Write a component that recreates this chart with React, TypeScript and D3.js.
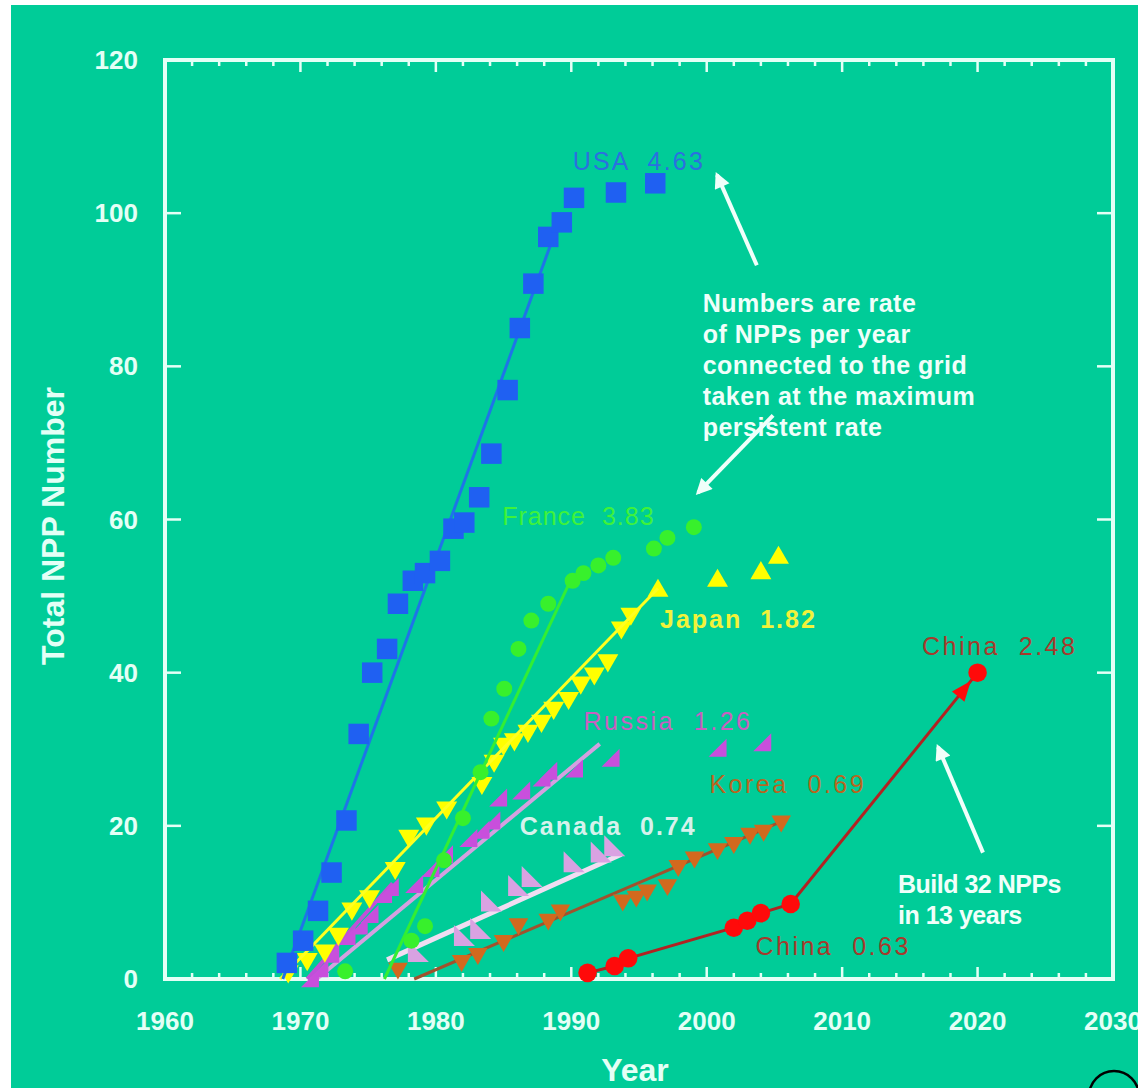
import React from 'react';
import * as d3 from 'd3';

// ---------- data ----------
const xTickValues = [1960, 1970, 1980, 1990, 2000, 2010, 2020, 2030];
const yTickValues = [0, 20, 40, 60, 80, 100, 120];

const usaYears = [1969.0, 1970.2, 1971.3, 1972.3, 1973.4, 1974.3, 1975.3, 1976.4, 1977.2, 1978.3, 1979.2, 1980.3, 1981.3, 1982.1, 1983.2, 1984.1, 1985.3, 1986.2, 1987.2, 1988.3, 1989.3, 1990.2, 1993.3, 1996.2];
const usaValues = [2.1, 5, 8.9, 13.9, 20.7, 32, 40, 43.1, 49, 52, 53, 54.6, 58.8, 59.6, 62.9, 68.6, 76.9, 85, 90.8, 96.9, 98.8, 102, 102.7, 103.9];

const franceYears = [1973.3, 1978.2, 1979.2, 1980.6, 1982.0, 1983.3, 1984.1, 1985.05, 1986.1, 1987.05, 1988.3, 1990.1, 1990.9, 1992.0, 1993.1, 1996.1, 1997.1, 1999.05];
const franceValues = [1, 5, 6.9, 15.5, 21, 27, 34, 37.9, 43.1, 46.8, 49, 52, 53, 54, 55, 56.2, 57.6, 59];

const japanYears = [1969.1, 1970.5, 1971.8, 1972.8, 1973.8, 1975.1, 1977.0, 1978.0, 1979.3, 1980.8, 1983.4, 1984.3, 1985.0, 1985.8, 1986.8, 1987.8, 1988.7, 1989.8, 1990.7, 1991.7, 1992.7, 1993.7, 1994.4];
const japanValues = [1, 2.6, 3.7, 5.9, 9.2, 10.8, 14.5, 18.7, 20.3, 22.4, 25.6, 28.5, 30.7, 31.3, 32.4, 33.7, 35.4, 36.7, 38.7, 39.9, 41.6, 45.9, 47.7];
const japanLateYears = [1996.4, 2000.8, 2004.0, 2005.3];
const japanLateValues = [50.7, 52, 53, 55];

const russiaYears = [1970.7, 1971.4, 1972.2, 1973.4, 1974.3, 1975.1, 1976.1, 1976.6, 1978.4, 1979.6, 1980.6, 1982.4, 1983.3, 1984.1, 1984.6, 1986.3, 1987.8, 1988.3, 1990.2, 1992.9, 2000.8, 2004.1];
const russiaValues = [0.1, 1.4, 3.3, 5.6, 7.0, 8.5, 11.1, 12, 12.4, 14.5, 16.3, 18.4, 19.5, 20.7, 23.7, 24.6, 26.3, 27.2, 27.5, 28.9, 30.2, 30.9];

const canadaYears = [1978.6, 1982.0, 1983.2, 1984.0, 1986.0, 1987.0, 1990.1, 1992.1, 1993.1];
const canadaValues = [3.4, 5.5, 6.4, 10, 12, 13.2, 15.1, 16.4, 17.2];

const koreaYears = [1977.2, 1981.9, 1983.1, 1985.0, 1986.1, 1988.3, 1989.2, 1993.8, 1994.8, 1995.6, 1997.1, 1997.9, 1999.1, 2000.8, 2002.0, 2003.2, 2004.2, 2005.5];
const koreaValues = [1.4, 2.4, 3.3, 5.0, 7.2, 7.8, 9.0, 10.3, 10.8, 11.6, 12.3, 14.8, 15.9, 17.0, 17.8, 19.0, 19.4, 20.6];

const chinaYears = [1991.2, 1993.2, 1994.2, 2002.0, 2003.0, 2004.0, 2006.2, 2020.0];
const chinaValues = [0.8, 1.7, 2.7, 6.7, 7.6, 8.6, 9.8, 40];

// fitted lines (start year/value, end year/value)
const usaFitYears = [1968.7, 1988.6];
const usaFitValues = [0, 96.5];
const franceFitYears = [1976.2, 1989.8];
const franceFitValues = [0, 51.5];
const japanFitYears = [1968.5, 1996.4];
const japanFitValues = [0, 51];
const russiaFitYears = [1971.2, 1992.1];
const russiaFitValues = [0, 30.7];
const russiaEarlyYears = [1970.5, 1976.8];
const russiaEarlyValues = [0, 12.5];
const canadaFitYears = [1976.4, 1993.7];
const canadaFitValues = [2.5, 16.3];
const koreaFitYears = [1978.4, 2005.7];
const koreaFitValues = [0, 20.7];

const seriesLabels = ['USA  4.63', 'France  3.83', 'Japan  1.82', 'Russia  1.26', 'Korea  0.69', 'Canada  0.74', 'China  2.48', 'China  0.63'];
const seriesLabelYears = [1990.1, 1984.9, 1996.55, 1990.9, 2000.2, 1986.2, 2015.9, 2003.6];
const seriesLabelValues = [105.6, 59.3, 45.8, 32.5, 24.3, 18.8, 42.3, 3.1];

const noteLines = ['Numbers are rate', 'of NPPs per year', 'connected to the grid', 'taken at the maximum', 'persistent rate'];
const buildLines = ['Build 32 NPPs', 'in 13 years'];

// arrows: tail (year,value) -> tip (year,value)
const arrowTailYears = [2003.7, 2004.9, 2020.4];
const arrowTailValues = [93.2, 73.6, 16.5];
const arrowTipYears = [2000.76, 1999.36, 2017.08];
const arrowTipValues = [105.0, 63.5, 30.3];

// ---------- layout ----------
const W = 1138;
const H = 1088;
const x = d3.scaleLinear().domain([1960, 2030]).range([165, 1113]);
const y = d3.scaleLinear().domain([0, 120]).range([979, 60]);

const FONT = 'Liberation Sans, Arial, Helvetica, sans-serif';
const AXIS = '#E4FFF6';

const line = d3.line<[number, number]>().x(d => x(d[0])).y(d => y(d[1]));
const zip = (a: number[], b: number[]): [number, number][] => a.map((v, i) => [v, b[i]]);

const sq = d3.symbol().type(d3.symbolSquare).size(420)() as string;
const circ = d3.symbol().type(d3.symbolCircle).size(200)() as string;
const circChina = d3.symbol().type(d3.symbolCircle).size(270)() as string;
const triBig = d3.symbol().type(d3.symbolTriangle).size(190)() as string;
const triMid = d3.symbol().type(d3.symbolTriangle).size(165)() as string;
const rightTri = 'M9,-9L9,9L-9,9Z';
const canadaTri = 'M-9,-12L-9,9L12,9Z';

function Markers({ xs, vs, path, fill, rotate = 0 }: { xs: number[]; vs: number[]; path: string; fill: string; rotate?: number }) {
  return (
    <g>
      {xs.map((yr, i) => (
        <path key={i} d={path} fill={fill} transform={`translate(${x(yr)},${y(vs[i])}) rotate(${rotate})`} />
      ))}
    </g>
  );
}

export default function App() {
  const minorX = d3.range(1962, 2030, 2).filter(v => v % 10 !== 0);
  const majorX = xTickValues.filter(v => v > 1960 && v < 2030);
  const majorY = yTickValues.filter(v => v > 0 && v < 120);

  const labelColors = ['#2B6FE0', '#3FF23A', '#F2F23A', '#C860C0', '#B8661E', '#D6F2EC', '#A63A2C', '#A63A2C'];
  const labelWeights = ['normal', 'normal', 'bold', 'normal', 'normal', 'bold', 'normal', 'normal'];
  const labelSpacing = [2.2, 1, 2, 2.5, 2.5, 2, 2.5, 2.5];

  // China arrowhead on last segment
  const n = chinaYears.length;
  const ax0 = x(chinaYears[n - 2]), ay0 = y(chinaValues[n - 2]);
  const ax1 = x(chinaYears[n - 1]), ay1 = y(chinaValues[n - 1]);
  const ang = (Math.atan2(ay1 - ay0, ax1 - ax0) * 180) / Math.PI;
  const hx = ax0 + (ax1 - ax0) * 0.93, hy = ay0 + (ay1 - ay0) * 0.93;

  return (
    <svg width={W} height={H} style={{ position: 'absolute', left: 0, top: 0, background: '#fff' }}>
      <defs>
        <marker id="wh" viewBox="0 0 10 10" refX="8" refY="5" markerWidth="18" markerHeight="16" markerUnits="userSpaceOnUse" orient="auto">
          <path d="M0,0L10,5L0,10Z" fill="#F0FFFA" />
        </marker>
      </defs>
      <rect x={11} y={5} width={W - 11} height={H - 5} fill="#00CC98" />

      {/* frame */}
      <rect x={165} y={60} width={948} height={919} fill="none" stroke={AXIS} strokeWidth={4} />
      {minorX.map(v => (
        <g key={'mx' + v}>
          <line x1={x(v)} x2={x(v)} y1={979} y2={973} stroke={AXIS} strokeWidth={2.5} />
          <line x1={x(v)} x2={x(v)} y1={60} y2={66} stroke={AXIS} strokeWidth={2.5} />
        </g>
      ))}
      {majorX.map(v => (
        <g key={'Mx' + v}>
          <line x1={x(v)} x2={x(v)} y1={979} y2={967} stroke={AXIS} strokeWidth={2.5} />
          <line x1={x(v)} x2={x(v)} y1={60} y2={72} stroke={AXIS} strokeWidth={2.5} />
        </g>
      ))}
      {majorY.map(v => (
        <g key={'My' + v}>
          <line x1={165} x2={181} y1={y(v)} y2={y(v)} stroke={AXIS} strokeWidth={2.5} />
          <line x1={1113} x2={1097} y1={y(v)} y2={y(v)} stroke={AXIS} strokeWidth={2.5} />
        </g>
      ))}
      {xTickValues.map(v => (
        <text key={'xl' + v} x={x(v)} y={1030} textAnchor="middle" fontFamily={FONT} fontSize={26} fontWeight="bold" fill={AXIS}>{v}</text>
      ))}
      {yTickValues.map(v => (
        <text key={'yl' + v} x={138} y={y(v)} dy="0.35em" textAnchor="end" fontFamily={FONT} fontSize={26} fontWeight="bold" fill={AXIS}>{v}</text>
      ))}
      <text x={635} y={1081} textAnchor="middle" fontFamily={FONT} fontSize={32} fontWeight="bold" fill={AXIS}>Year</text>
      <text transform={`translate(64,${526}) rotate(-90)`} textAnchor="middle" fontFamily={FONT} fontSize={32} fontWeight="bold" fill={AXIS}>Total NPP Number</text>

      {/* Canada */}
      <path d={line(zip(canadaFitYears, canadaFitValues))!} stroke="#F0DDF2" strokeWidth={5} fill="none" />
      <Markers xs={canadaYears} vs={canadaValues} path={canadaTri} fill="#D9A2E2" />
      {/* Korea */}
      <path d={line(zip(koreaFitYears, koreaFitValues))!} stroke="#A0522D" strokeWidth={3} fill="none" />
      <Markers xs={koreaYears} vs={koreaValues} path={triMid} fill="#D2691E" rotate={180} />
      {/* Russia */}
      <path d={line(zip(russiaFitYears, russiaFitValues))!} stroke="#D4A0E0" strokeWidth={4} fill="none" />
      <path d={line(zip(russiaEarlyYears, russiaEarlyValues))!} stroke="#C050D8" strokeWidth={4} fill="none" />
      <Markers xs={russiaYears} vs={russiaValues} path={rightTri} fill="#C84FDC" />
      {/* Japan */}
      <Markers xs={japanYears} vs={japanValues} path={triBig} fill="#FFFF00" rotate={180} />
      <Markers xs={japanLateYears} vs={japanLateValues} path={triBig} fill="#FFFF00" />
      <path d={line(zip(japanFitYears, japanFitValues))!} stroke="#FFFF20" strokeWidth={3} fill="none" />
      {/* France */}
      <path d={line(zip(franceFitYears, franceFitValues))!} stroke="#33EE33" strokeWidth={3} fill="none" />
      <Markers xs={franceYears} vs={franceValues} path={circ} fill="#38F02C" />
      {/* USA */}
      <path d={line(zip(usaFitYears, usaFitValues))!} stroke="#1E74E8" strokeWidth={3} fill="none" />
      <Markers xs={usaYears} vs={usaValues} path={sq} fill="#1F60F2" />
      {/* China */}
      <path d={line(zip(chinaYears, chinaValues))!} stroke="#B22222" strokeWidth={3} fill="none" />
      <Markers xs={chinaYears} vs={chinaValues} path={circChina} fill="#FF0A0A" />
      <path d="M-10,-8L10,0L-10,8Z" fill="#FF0A0A" transform={`translate(${hx},${hy}) rotate(${ang})`} />

      {/* series labels */}
      {seriesLabels.map((t, i) => (
        <text key={'sl' + i} x={x(seriesLabelYears[i])} y={y(seriesLabelValues[i])} fontFamily={FONT} fontSize={25} fontWeight={labelWeights[i]} fill={labelColors[i]} letterSpacing={labelSpacing[i]} style={{ whiteSpace: 'pre' }} xmlSpace="preserve">{t}</text>
      ))}

      {/* notes */}
      {noteLines.map((t, i) => (
        <text key={'nl' + i} x={x(1999.7)} y={312 + i * 31} fontFamily={FONT} fontSize={25} fontWeight="bold" fill="#F0FFFA" letterSpacing={0.5}>{t}</text>
      ))}
      {buildLines.map((t, i) => (
        <text key={'bl' + i} x={898} y={893 + i * 31} fontFamily={FONT} fontSize={25} fontWeight="bold" fill="#F0FFFA" letterSpacing={-0.5}>{t}</text>
      ))}
      {arrowTailYears.map((yr, i) => (
        <line key={'ar' + i} x1={x(yr)} y1={y(arrowTailValues[i])} x2={x(arrowTipYears[i])} y2={y(arrowTipValues[i])} stroke="#F0FFFA" strokeWidth={4} markerEnd="url(#wh)" />
      ))}

      <circle cx={1114} cy={1096} r={25} fill="none" stroke="#000" strokeWidth={2.5} />
    </svg>
  );
}
